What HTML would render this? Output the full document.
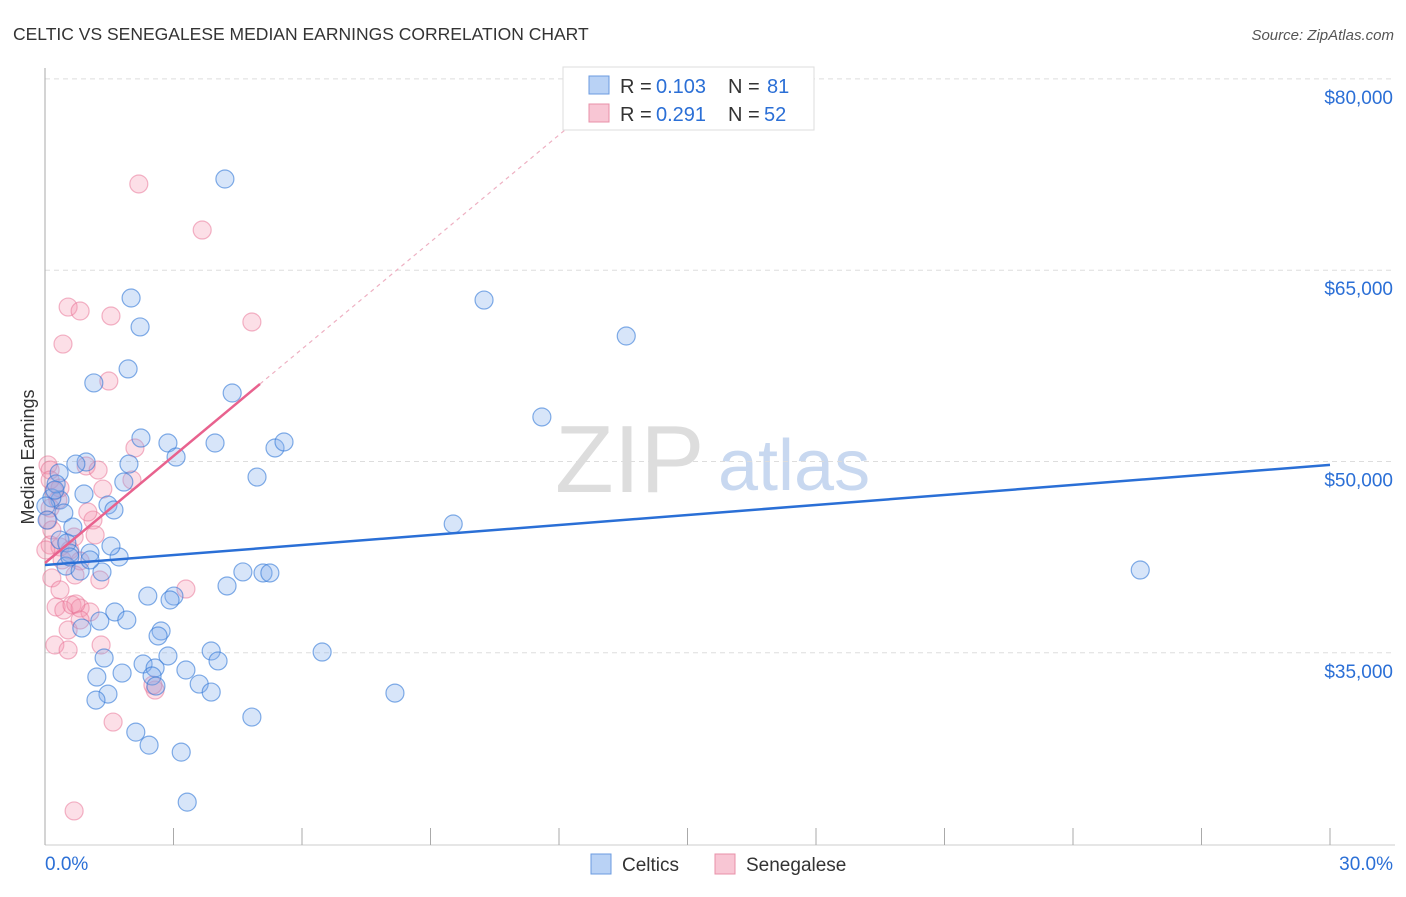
<!DOCTYPE html>
<html><head><meta charset="utf-8"><style>
body{margin:0;background:#fff;font-family:"Liberation Sans",sans-serif;}
svg text{font-family:"Liberation Sans",sans-serif;}
</style></head><body>
<svg id="c" width="1406" height="892" xmlns="http://www.w3.org/2000/svg">
<text x="13" y="40" font-size="17.5" fill="#333">CELTIC VS SENEGALESE MEDIAN EARNINGS CORRELATION CHART</text>
<text x="1394" y="40" font-size="15" fill="#555" font-style="italic" text-anchor="end">Source: ZipAtlas.com</text>
<text x="34" y="457" font-size="18" fill="#333" text-anchor="middle" transform="rotate(-90 34 457)">Median Earnings</text>
<g>
<text x="555" y="492" font-size="96" fill="#ddd" font-family="Liberation Serif">ZIP</text>
<text x="718" y="490" font-size="72" fill="#c8d8f0">atlas</text>
</g>
<g id="grid"></g><g id="axes"></g><g id="pts"></g><g id="lines"></g>
<g>
<rect x="563" y="67" width="251" height="63" fill="#fff" stroke="#ddd"/>
<rect x="589" y="76" width="20" height="18" fill="#b9d2f5" stroke="#6b9be0"/>
<rect x="589" y="104" width="20" height="18" fill="#f8c6d4" stroke="#e890a8"/>
<text x="620" y="93" font-size="20" fill="#333">R =</text>
<text x="656" y="93" font-size="20" fill="#2b6fd6">0.103</text>
<text x="728" y="93" font-size="20" fill="#333">N =</text>
<text x="767" y="93" font-size="20" fill="#2b6fd6">81</text>
<text x="620" y="121" font-size="20" fill="#333">R =</text>
<text x="656" y="121" font-size="20" fill="#2b6fd6">0.291</text>
<text x="728" y="121" font-size="20" fill="#333">N =</text>
<text x="764" y="121" font-size="20" fill="#2b6fd6">52</text>
</g>
<g>
<rect x="591" y="854" width="20" height="20" fill="#b9d2f5" stroke="#6b9be0"/>
<text x="622" y="871" font-size="19" fill="#333">Celtics</text>
<rect x="715" y="854" width="20" height="20" fill="#f8c6d4" stroke="#e890a8"/>
<text x="746" y="871" font-size="19" fill="#333">Senegalese</text>
</g>
</svg>
<script>
const yTicks=[35000,50000,65000,80000];
const yTickLabels=["$35,000","$50,000","$65,000","$80,000"];
const xTickLabels=["0.0%","30.0%"];
const celticsX=[4.20,10.25,13.57,2.01,2.22,1.14,1.94,4.37,11.60,2.24,2.87,3.06,3.97,5.37,5.58,4.95,0.96,0.33,0.72,1.96,1.84,0.91,0.35,1.47,1.61,0.44,0.16,0.26,0.65,0.35,0.51,1.05,0.58,1.73,1.54,9.53,25.57,0.49,1.33,0.82,4.62,5.09,5.25,4.25,2.40,3.01,2.92,1.63,1.91,1.28,0.86,2.71,2.64,3.88,6.47,1.38,2.87,2.29,2.57,2.50,3.29,1.21,1.80,3.60,3.88,8.17,2.59,1.47,1.19,4.83,2.12,2.43,3.18,3.32,4.04,0.02,0.23,0.05,0.58,1.05];
const celticsY=[72.15,62.66,59.84,62.82,60.55,56.16,57.26,55.37,53.49,51.84,51.45,50.35,51.45,51.06,51.53,48.78,49.96,49.10,49.80,49.80,48.39,47.45,46.98,46.59,46.20,45.96,47.14,48.24,44.86,43.84,43.61,42.82,42.82,42.51,43.37,45.10,41.49,41.80,41.34,41.41,41.34,41.26,41.26,40.24,39.45,39.45,39.14,38.20,37.57,37.49,36.94,36.71,36.32,35.14,35.06,34.59,34.75,34.12,33.81,33.18,33.65,33.10,33.41,32.55,31.92,31.84,32.39,31.76,31.29,29.96,28.78,27.76,27.21,23.29,34.36,46.51,47.76,45.41,42.51,42.28];
const senX=[2.19,3.67,0.54,0.82,1.54,4.83,0.42,1.49,2.10,0.07,0.96,2.03,1.35,0.21,0.30,0.12,0.07,1.12,0.68,0.12,0.35,0.58,0.82,0.02,0.16,0.35,0.70,1.28,3.29,0.26,0.44,0.63,0.82,1.05,0.72,0.23,0.54,1.31,0.54,2.57,2.52,1.59,0.68,0.12,0.16,1.00,1.17,0.40,0.82,0.12,1.24,0.35];
const senY=[71.76,68.15,62.11,61.80,61.41,60.94,59.21,56.31,51.06,49.73,49.65,48.55,47.84,47.69,46.98,46.35,45.41,45.41,44.08,43.45,43.30,43.06,42.20,43.06,40.87,39.93,41.10,40.71,40.00,38.59,38.35,38.75,38.51,38.20,38.83,35.61,35.22,35.61,36.79,32.08,32.47,29.57,22.60,49.33,44.63,46.04,44.24,42.28,37.57,48.55,49.33,47.92];
const celticsFit=[41.88,0.2617];
const senFit=[42.04,2.797];
const NS="http://www.w3.org/2000/svg";
const X=v=>45+v/30*1285;
const Y=k=>461.5-(k-50)*191.3/15;
function mk(t,a,p){const e=document.createElementNS(NS,t);for(const k in a)e.setAttribute(k,a[k]);p.appendChild(e);return e;}
const grid=document.getElementById('grid'),axes=document.getElementById('axes');
yTicks.forEach((v,i)=>{const y=Y(v/1000);
 const g=mk('line',{x1:45,x2:1395,y1:y,y2:y,stroke:'#ddd','stroke-dasharray':'5,4'},grid);
 
 
 const t=mk('text',{x:1393,y:y+25,'font-size':19,fill:'#2b6fd6','text-anchor':'end'},axes);t.textContent=yTickLabels[i];
 
 
});
const ax=mk('line',{x1:45,x2:45,y1:68,y2:845,stroke:'#aaa'},axes);


const bx=mk('line',{x1:45,x2:1395,y1:845,y2:845,stroke:'#ccc'},axes);


for(let i=0;i<=10;i++){const x=X(i*3);const tk=mk('line',{x1:x,x2:x,y1:828,y2:845,stroke:'#aaa'},axes);
 
 }
const t0=mk('text',{x:45,y:870,'font-size':19,fill:'#2b6fd6'},axes);t0.textContent=xTickLabels[0];


const t1=mk('text',{x:1393,y:870,'font-size':19,fill:'#2b6fd6','text-anchor':'end'},axes);t1.textContent=xTickLabels[1];


const pts=document.getElementById('pts');
senX.forEach((x,i)=>{const c=mk('circle',{cx:X(x),cy:Y(senY[i]),r:9,fill:'rgba(244,150,176,0.3)',stroke:'rgba(232,110,145,0.5)','stroke-width':1.2},pts);
 
 });
celticsX.forEach((x,i)=>{const c=mk('circle',{cx:X(x),cy:Y(celticsY[i]),r:9,fill:'rgba(130,175,235,0.32)',stroke:'rgba(50,120,215,0.6)','stroke-width':1.2},pts);
 
 });
const lines=document.getElementById('lines');
const bl=mk('line',{x1:X(0),y1:Y(celticsFit[0]),x2:X(30),y2:Y(celticsFit[0]+celticsFit[1]*30),stroke:'#2a6fd6','stroke-width':2.5},lines);


const pe=5.02;
const pl=mk('line',{x1:X(0),y1:Y(senFit[0]),x2:X(pe),y2:Y(senFit[0]+senFit[1]*pe),stroke:'#e8628e','stroke-width':2.5},lines);


const xe=(80.8-senFit[0])/senFit[1];
const pd=mk('line',{x1:X(pe),y1:Y(senFit[0]+senFit[1]*pe),x2:X(xe),y2:Y(senFit[0]+senFit[1]*xe),stroke:'#eeb0c2','stroke-width':1.2,'stroke-dasharray':'4,4'},lines);


</script>
</body></html>
